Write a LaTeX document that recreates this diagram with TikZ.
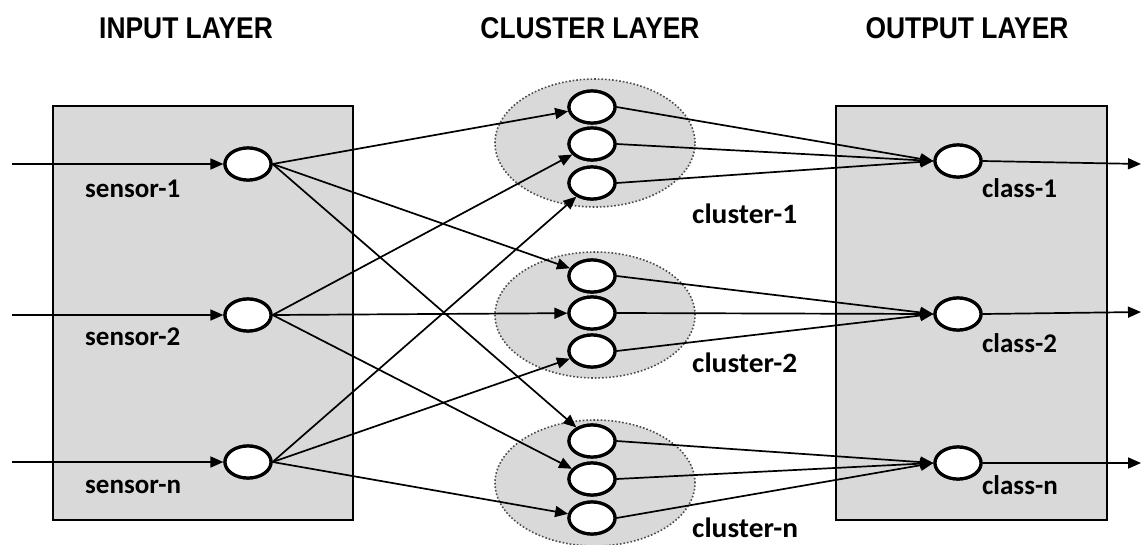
\documentclass[tikz,border=0pt]{standalone}
\usepackage{fontspec}
\setmainfont{Carlito}
\newfontfamily\titlefont{Liberation Sans}
\usetikzlibrary{arrows.meta,shapes.geometric}
\definecolor{boxgray}{HTML}{D9D9D9}
\tikzset{
  layerbox/.style={draw=black, line width=2pt, fill=boxgray},
  clusterbg/.style={draw=black!70, dotted, line width=1.6pt, fill=boxgray, ellipse},
  neuron/.style={draw=black, line width=3.2pt, fill=white, ellipse, minimum width=46pt, minimum height=32pt, inner sep=0pt},
  link/.style={line width=1.7pt, -{Triangle[length=13pt,width=11pt]}},
  title/.style={font=\titlefont\bfseries\fontsize{30}{32}\selectfont, xscale=0.88, inner sep=0pt},
  lab/.style={font=\bfseries\fontsize{27}{30}\selectfont, inner sep=0pt, anchor=base west},
  clab/.style={font=\bfseries\fontsize{28}{30}\selectfont, inner sep=0pt, anchor=base west, xscale=1.05},
}
\begin{document}
\begin{tikzpicture}[x=1pt,y=-1pt]
\useasboundingbox (0,0) rectangle (1143,544);
% titles
\node[title] (t1) at (186,28) {INPUT LAYER};
\node[title] (t2) at (590,28) {CLUSTER LAYER};
\node[title] (t3) at (967,28) {OUTPUT LAYER};
% boxes
\draw[layerbox] (53,106) rectangle (353,520);
\draw[layerbox] (836,106) rectangle (1107,520);
% cluster backgrounds
\node[clusterbg, minimum width=200pt, minimum height=128pt] (g1) at (595,143) {};
\node[clusterbg, minimum width=200pt, minimum height=126pt] (g2) at (595,315) {};
\node[clusterbg, minimum width=200pt, minimum height=126pt] (g3) at (595,483) {};
% sensors
\node[neuron] (s1) at (248,164) {};
\node[neuron] (s2) at (248,315) {};
\node[neuron] (s3) at (248,462) {};
% cluster neurons
\node[neuron] (c11) at (592,107) {};
\node[neuron] (c12) at (592,144) {};
\node[neuron] (c13) at (592,183) {};
\node[neuron] (c21) at (592,276) {};
\node[neuron] (c22) at (592,313) {};
\node[neuron] (c23) at (592,351) {};
\node[neuron] (c31) at (592,441) {};
\node[neuron] (c32) at (592,479) {};
\node[neuron] (c33) at (592,518) {};
% classes
\node[neuron] (k1) at (958,161) {};
\node[neuron] (k2) at (958,314) {};
\node[neuron] (k3) at (958,463) {};
% input / output free ends
\coordinate (i1) at (12,164);
\coordinate (i2) at (12,315);
\coordinate (i3) at (12,462);
\coordinate (o1) at (1141,164);
\coordinate (o2) at (1141,312);
\coordinate (o3) at (1141,463);
% inputs
\draw[link] (i1) -- (s1);
\draw[link] (i2) -- (s2);
\draw[link] (i3) -- (s3);
% sensors to clusters
\foreach \s/\k in {1/1,2/2,3/3}{
  \draw[link] (s\s.east) -- (c1\k);
  \draw[link] (s\s.east) -- (c2\k);
  \draw[link] (s\s.east) -- (c3\k);
}
% clusters to classes
\foreach \g in {1,2,3}{
  \foreach \m in {1,2,3}{
    \draw[link] (c\g\m.east) -- (k\g.west);
  }
}
% redraw neurons on top
\foreach \n in {s1,s2,s3,c11,c12,c13,c21,c22,c23,c31,c32,c33,k1,k2,k3}{
  \draw[line width=3.2pt, fill=white] (\n.center) ellipse (23pt and 16pt);
}
% outputs
\draw[link] (k1.east) -- (o1);
\draw[link] (k2.east) -- (o2);
\draw[link] (k3.east) -- (o3);
% labels
\node[lab] (l1) at (85,197) {sensor-1};
\node[lab] (l2) at (85,345) {sensor-2};
\node[lab] (l3) at (85,493) {sensor-n};
\node[lab] (m1) at (982,197) {class-1};
\node[lab] (m2) at (982,352) {class-2};
\node[lab] (m3) at (982,494) {class-n};
\node[clab] (n1) at (692,223) {cluster-1};
\node[clab] (n2) at (692,372) {cluster-2};
\node[clab] (n3) at (692,537) {cluster-n};
\end{tikzpicture}
\end{document}
